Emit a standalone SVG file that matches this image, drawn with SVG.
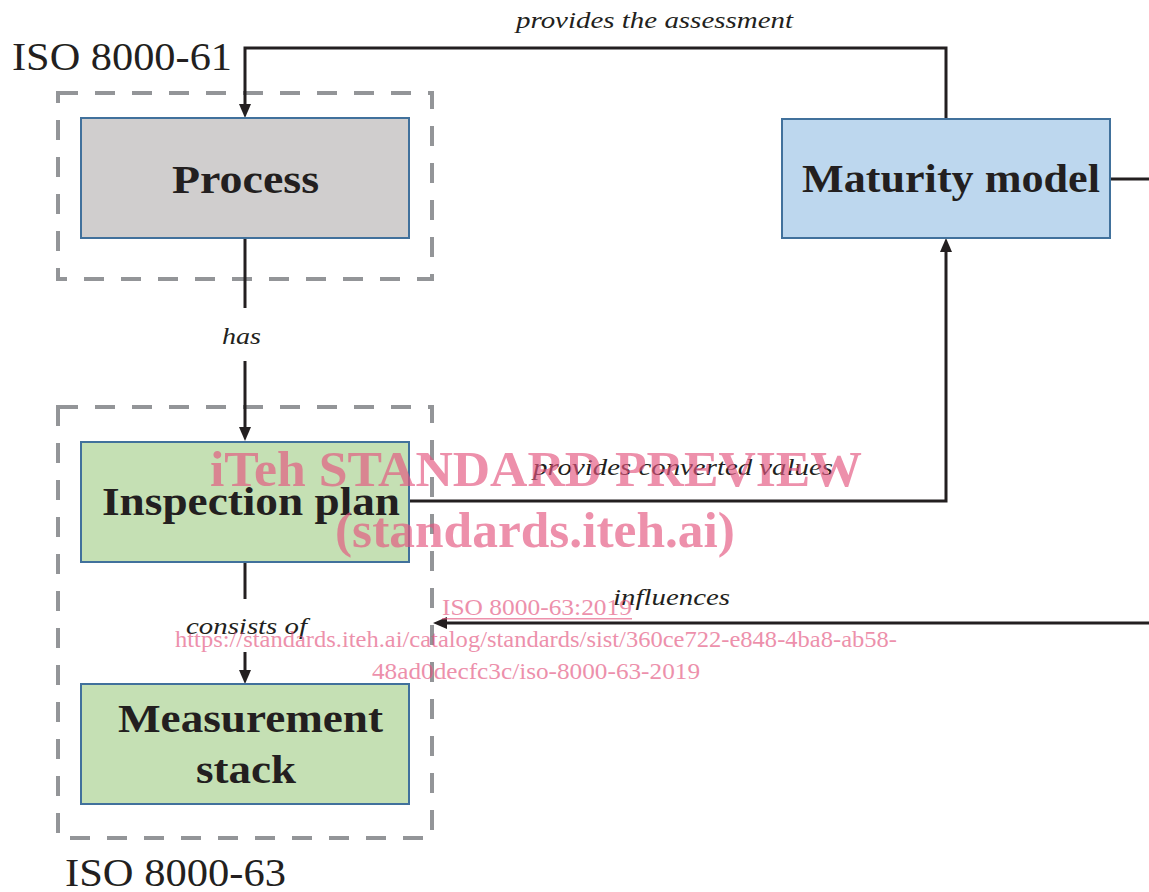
<svg xmlns="http://www.w3.org/2000/svg" width="1149" height="892" viewBox="0 0 1149 892">
  <style>
    .box { stroke: #41719c; stroke-width: 2; }
    .grey { fill: #d0cece; }
    .blue { fill: #bdd7ee; }
    .green { fill: #c5e0b4; }
    .frame { fill: none; stroke: #939598; stroke-width: 4; stroke-dasharray: 20 17; }
    .conn { fill: none; stroke: #231f20; stroke-width: 3; }
    .title { font-family: "Liberation Serif", "DejaVu Serif", serif; font-weight: bold; font-size: 40px; fill: #231f20; }
    .lbl { font-family: "Liberation Serif", "DejaVu Serif", serif; font-style: italic; font-size: 24px; fill: #231f20; }
    .std { font-family: "Liberation Serif", "DejaVu Serif", serif; font-size: 40px; fill: #231f20; }
    .wm { font-family: "Liberation Serif", "Times New Roman", serif; fill: #e4557f; opacity: 0.65; }
    .wmb { font-weight: bold; font-size: 50px; }
    .wms { font-size: 24px; }
  </style>
  <defs>
    <marker id="arrow" viewBox="0 0 14 12" refX="4" refY="6" markerWidth="14" markerHeight="12" markerUnits="userSpaceOnUse" orient="auto">
      <path d="M0,0 L14,6 L0,12 z" fill="#231f20"/>
    </marker>
  </defs>

  <!-- standard scope frames -->
  <g id="scope-61">
    <rect class="frame" x="58" y="93" width="374" height="186"/>
    <text class="std" x="12" y="70" textLength="220" lengthAdjust="spacingAndGlyphs">ISO 8000-61</text>
  </g>
  <g id="scope-63">
    <rect class="frame" x="58" y="407" width="374" height="431"/>
    <text class="std" x="65" y="886" textLength="221" lengthAdjust="spacingAndGlyphs">ISO 8000-63</text>
  </g>

  <!-- connectors -->
  <g id="connectors">
    <path class="conn" d="M946,119 V48 H245 V108" marker-end="url(#arrow)"/>
    <path class="conn" d="M245,238 V308"/>
    <path class="conn" d="M245,361 V431" marker-end="url(#arrow)"/>
    <path class="conn" d="M245,562 V599"/>
    <path class="conn" d="M245,652 V674" marker-end="url(#arrow)"/>
    <path class="conn" d="M409,501 H946 V248" marker-end="url(#arrow)"/>
    <path class="conn" d="M1110,179 H1149"/>
    <path class="conn" d="M1149,623 H443" marker-end="url(#arrow)"/>
    <text class="lbl" x="516" y="28" textLength="277" lengthAdjust="spacingAndGlyphs">provides the assessment</text>
    <text class="lbl" x="222" y="344" textLength="39" lengthAdjust="spacingAndGlyphs">has</text>
    <text class="lbl" x="186" y="634" textLength="121" lengthAdjust="spacingAndGlyphs">consists of</text>
    <text class="lbl" x="533" y="475" textLength="300" lengthAdjust="spacingAndGlyphs">provides converted values</text>
    <text class="lbl" x="613" y="605" textLength="117" lengthAdjust="spacingAndGlyphs">influences</text>
  </g>

  <!-- nodes -->
  <g id="process">
    <rect class="box grey" x="81" y="118" width="328" height="120"/>
    <text class="title" x="172" y="193" textLength="147" lengthAdjust="spacingAndGlyphs">Process</text>
  </g>
  <g id="maturity-model">
    <rect class="box blue" x="782" y="119" width="328" height="119"/>
    <text class="title" x="802" y="192" textLength="298" lengthAdjust="spacingAndGlyphs">Maturity model</text>
  </g>
  <g id="inspection-plan">
    <rect class="box green" x="81" y="442" width="328" height="120"/>
    <text class="title" x="102" y="515" textLength="298" lengthAdjust="spacingAndGlyphs">Inspection plan</text>
  </g>
  <g id="measurement-stack">
    <rect class="box green" x="81" y="684" width="328" height="120"/>
    <text class="title" x="118" y="732" textLength="265" lengthAdjust="spacingAndGlyphs">Measurement</text>
    <text class="title" x="196" y="783" textLength="100" lengthAdjust="spacingAndGlyphs">stack</text>
  </g>

  <!-- preview stamp -->
  <g id="stamp" class="wm">
    <text class="wmb" x="210" y="486" textLength="652" lengthAdjust="spacingAndGlyphs">iTeh STANDARD PREVIEW</text>
    <text class="wmb" x="335" y="547" textLength="400" lengthAdjust="spacingAndGlyphs">(standards.iteh.ai)</text>
    <text class="wms" x="442" y="615" textLength="190" lengthAdjust="spacingAndGlyphs">ISO 8000-63:2019</text>
    <rect x="442" y="618" width="190" height="1.5" fill="#e4557f"/>
    <text class="wms" x="175" y="647" textLength="722" lengthAdjust="spacingAndGlyphs">https://standards.iteh.ai/catalog/standards/sist/360ce722-e848-4ba8-ab58-</text>
    <text class="wms" x="372" y="679" textLength="328" lengthAdjust="spacingAndGlyphs">48ad0decfc3c/iso-8000-63-2019</text>
  </g>
</svg>
